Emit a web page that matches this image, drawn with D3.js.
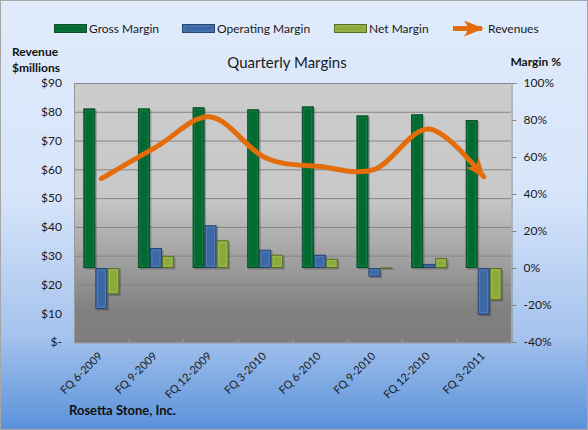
<!DOCTYPE html>
<html>
<head>
<meta charset="utf-8">
<script src="https://cdn.jsdelivr.net/npm/d3@7"></script>
<style>
  body { margin: 0; background: #fff; }
  svg { display: block; font-family: Lato, "Open Sans", sans-serif; }
</style>
</head>
<body>
<svg id="chart" width="588" height="430"></svg>
<script>
// quarters
var categories = ["FQ 6-2009", "FQ 9-2009", "FQ 12-2009", "FQ 3-2010", "FQ 6-2010", "FQ 9-2010", "FQ 12-2010", "FQ 3-2011"];
// revenue, $ millions (left axis)
var revenues = [56.8, 67.7, 78.2, 64.0, 61.0, 60.0, 74.0, 57.4];
// margins, % (right axis)
var grossMargin = [86.3, 86.3, 86.9, 85.8, 87.4, 82.5, 83.1, 80.0];
var operatingMargin = [-22.2, 10.8, 23.1, 9.9, 7.2, -4.7, 2.2, -25.2];
var netMargin = [-14.2, 6.6, 15.0, 7.2, 5.0, 0.3, 5.4, -17.3];
var seriesNames = ["Gross Margin", "Operating Margin", "Net Margin"];
var revTicks = [0, 10, 20, 30, 40, 50, 60, 70, 80, 90];
var marginTicks = [-40, -20, 0, 20, 40, 60, 80, 100];

var W = 588, H = 430;
var plot = {left: 74, right: 511, top: 83, bottom: 342};
var svg = d3.select("#chart");
var defs = svg.append("defs");

// backgrounds
var bgGrad = defs.append("linearGradient").attr("id", "bgGrad").attr("x1", 0).attr("y1", 0).attr("x2", 0).attr("y2", 1);
bgGrad.append("stop").attr("offset", "0%").attr("stop-color", "#e0ebfb");
bgGrad.append("stop").attr("offset", "45%").attr("stop-color", "#d7e5fa");
bgGrad.append("stop").attr("offset", "78%").attr("stop-color", "#a5c3ed");
bgGrad.append("stop").attr("offset", "100%").attr("stop-color", "#5a91da");
var plotGrad = defs.append("linearGradient").attr("id", "plotGrad").attr("x1", 0).attr("y1", 0).attr("x2", 0).attr("y2", 1);
plotGrad.append("stop").attr("offset", "0%").attr("stop-color", "#cccccc");
plotGrad.append("stop").attr("offset", "44%").attr("stop-color", "#c8c8c8");
plotGrad.append("stop").attr("offset", "88%").attr("stop-color", "#808080");
plotGrad.append("stop").attr("offset", "100%").attr("stop-color", "#7e7e7e");

svg.append("rect").attr("x", 0.5).attr("y", 0.5).attr("width", W - 1).attr("height", H - 1)
  .attr("fill", "url(#bgGrad)").attr("stroke", "#a6a6a6");
svg.append("rect").attr("x", plot.left).attr("y", plot.top)
  .attr("width", plot.right - plot.left).attr("height", plot.bottom - plot.top)
  .attr("fill", "url(#plotGrad)");

// scales
var x = d3.scaleBand().domain(categories).range([plot.left, plot.right]).padding(0);
var xSub = d3.scaleBand().domain(seriesNames).range([0, x.bandwidth()]).paddingInner(0).paddingOuter(0.775);
var yRev = d3.scaleLinear().domain([0, 90]).range([plot.bottom, plot.top]);
var yMar = d3.scaleLinear().domain([-40, 100]).range([plot.bottom, plot.top]);

// gridlines
svg.append("g").selectAll("line").data(revTicks).join("line")
  .attr("x1", plot.left).attr("x2", plot.right)
  .attr("y1", d => yRev(d) + 0.5).attr("y2", d => yRev(d) + 0.5)
  .attr("stroke", "#858585").attr("stroke-width", 1);

// left axis labels
svg.append("g").attr("transform", `translate(${plot.left}, 0)`)
  .call(d3.axisLeft(yRev).tickValues(revTicks).tickSize(0).tickPadding(12)
    .tickFormat(d => d === 0 ? "$-" : "$" + d))
  .call(g => g.select(".domain").attr("stroke", "#9a9a9a"))
  .call(g => g.selectAll("text").attr("fill", "#1a1a1a").style("font-size", "12px").style("font-family", "Lato"));

// right axis
svg.append("g").attr("transform", `translate(${plot.right + 0.5}, 0)`)
  .call(d3.axisRight(yMar).tickValues(marginTicks).tickSize(5).tickPadding(7)
    .tickFormat(d => d + "%"))
  .call(g => g.select(".domain").attr("stroke", "#868686"))
  .call(g => g.selectAll(".tick line").attr("stroke", "#868686"))
  .call(g => g.selectAll("text").attr("fill", "#1a1a1a").style("font-size", "12px").style("font-family", "Lato"));

// bottom axis
svg.append("g").attr("transform", `translate(0, ${plot.bottom + 0.5})`)
  .call(d3.axisBottom(x).tickSize(0).tickFormat(""))
  .call(g => g.select(".domain").attr("stroke", "#9a9a9a"));
svg.append("g").selectAll("line").data(categories.slice(1)).join("line")
  .attr("x1", d => x(d) + 0.5).attr("x2", d => x(d) + 0.5)
  .attr("y1", plot.bottom - 3).attr("y2", plot.bottom)
  .attr("stroke", "#9a9a9a");

svg.append("g").selectAll("text").data(categories).join("text")
  .attr("transform", d => `translate(${x(d) + x.bandwidth() / 2 - 1}, ${plot.bottom + 12}) rotate(-45)`)
  .attr("text-anchor", "end").attr("dy", "0.35em")
  .style("font-size", "11px").style("fill", "#1a1a1a")
  .text(d => d);

// bars
var barStyles = {
  "Gross Margin":     {fill: "#006a32", edge: "#0b4e27", hi: "#2e8a55"},
  "Operating Margin": {fill: "#3b68a4", edge: "#27466f", hi: "#6d93c4"},
  "Net Margin":       {fill: "#8aaa3d", edge: "#596f24", hi: "#b0c96e"}
};
var seriesValues = [grossMargin, operatingMargin, netMargin];
var barGroup = svg.append("g");
seriesNames.forEach(function(name, si) {
  var st = barStyles[name];
  var rows = categories.map((c, i) => ({cat: c, v: seriesValues[si][i]}));
  var g = barGroup.append("g");
  var geom = d => ({
    x: x(d.cat) + xSub(name),
    y: Math.min(yMar(0), yMar(d.v)),
    h: Math.max(1, Math.abs(yMar(d.v) - yMar(0)))
  });
  // soft shadow
  g.selectAll("rect.sh").data(rows).join("rect").attr("class", "sh")
    .attr("x", d => geom(d).x + 1.5).attr("y", d => geom(d).y + 1.5)
    .attr("width", xSub.bandwidth()).attr("height", d => geom(d).h)
    .attr("fill", "#000").attr("opacity", 0.22);
  g.selectAll("rect.bar").data(rows).join("rect").attr("class", "bar")
    .attr("x", d => geom(d).x + 0.5).attr("y", d => geom(d).y + 0.5)
    .attr("width", xSub.bandwidth() - 1).attr("height", d => Math.max(0.5, geom(d).h - 1))
    .attr("fill", st.fill).attr("stroke", st.edge).attr("stroke-width", 1);
  g.selectAll("rect.hi").data(rows.filter(d => geom(d).h > 5)).join("rect").attr("class", "hi")
    .attr("x", d => geom(d).x + 2).attr("y", d => geom(d).y + 2)
    .attr("width", xSub.bandwidth() - 4).attr("height", d => geom(d).h - 4)
    .attr("fill", "none").attr("stroke", st.hi).attr("stroke-width", 0.8).attr("opacity", 0.6);
});

// revenue line with arrow
var orange = "#e46c0a";
defs.append("marker").attr("id", "arrow").attr("markerUnits", "userSpaceOnUse")
  .attr("viewBox", "0 0 20 16").attr("refX", 18).attr("refY", 8)
  .attr("markerWidth", 20).attr("markerHeight", 16).attr("orient", "auto")
  .append("path").attr("d", "M0,0 L20,8 L0,16 L5,8 Z").attr("fill", orange);

var line = d3.line()
  .x((d, i) => x(categories[i]) + x.bandwidth() / 2)
  .y(d => yRev(d))
  .curve(d3.curveCardinal.tension(0));
svg.append("path").datum(revenues)
  .attr("d", line).attr("fill", "none")
  .attr("stroke", orange).attr("stroke-width", 5).attr("stroke-linecap", "round")
  .attr("marker-end", "url(#arrow)");

// titles
svg.append("text").attr("x", 287).attr("y", 68).attr("text-anchor", "middle")
  .style("font-size", "15px").style("fill", "#1a1a1a").text("Quarterly Margins");
svg.append("text").attr("x", 12).attr("y", 56)
  .style("font-size", "12px").style("font-weight", "bold").style("fill", "#111").text("Revenue");
svg.append("text").attr("x", 12).attr("y", 72)
  .style("font-size", "12px").style("font-weight", "bold").style("fill", "#111").text("$millions");
svg.append("text").attr("x", 561).attr("y", 66).attr("text-anchor", "end")
  .style("font-size", "12px").style("font-weight", "bold").style("fill", "#111").text("Margin %");
svg.append("text").attr("x", 69).attr("y", 415)
  .style("font-size", "13px").style("font-weight", "bold").style("fill", "#111").text("Rosetta Stone, Inc.");

// legend
var legendItems = [
  {name: "Gross Margin", x: 54, tx: 89},
  {name: "Operating Margin", x: 182, tx: 217},
  {name: "Net Margin", x: 334, tx: 369}
];
var lg = svg.append("g");
legendItems.forEach(function(it) {
  var st = barStyles[it.name];
  lg.append("rect").attr("x", it.x + 0.5).attr("y", 24.5).attr("width", 32).attr("height", 8)
    .attr("fill", st.fill).attr("stroke", st.edge);
  lg.append("rect").attr("x", it.x + 2).attr("y", 26).attr("width", 29).attr("height", 5)
    .attr("fill", "none").attr("stroke", st.hi).attr("stroke-width", 0.8).attr("opacity", 0.6);
  lg.append("text").attr("x", it.tx).attr("y", 33).style("font-size", "12px").style("fill", "#1a1a1a").text(it.name);
});
lg.append("line").attr("x1", 453).attr("x2", 482).attr("y1", 28.5).attr("y2", 28.5)
  .attr("stroke", orange).attr("stroke-width", 5).attr("marker-end", "url(#arrow)");
lg.append("text").attr("x", 488).attr("y", 33).style("font-size", "12px").style("fill", "#1a1a1a").text("Revenues");
</script>
</body>
</html>
